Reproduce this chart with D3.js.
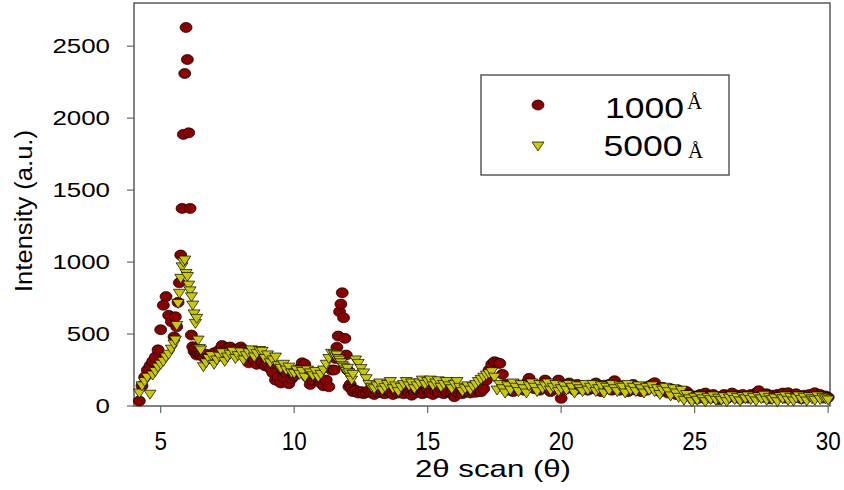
<!DOCTYPE html>
<html><head><meta charset="utf-8">
<script src="https://cdn.jsdelivr.net/npm/d3@7"></script>
<style>body{margin:0;background:#fff;} svg{display:block;}</style>
</head><body>
<svg id="chart" width="844" height="490"></svg>
<script>
// ---------- data ----------
const seriesNames = ["1000", "5000"];
const seriesUnit = "Å";
const xTicks = [5, 10, 15, 20, 25, 30];
const yTicks = [0, 500, 1000, 1500, 2000, 2500];

// 2θ positions (denser sampling around the two reflections)
function steps(start, n, step) { return d3.range(n).map(i => +(start + i * step).toFixed(2)); }
const twoTheta = [].concat(
  steps(4.2, 13, 0.1), steps(5.5, 21, 0.05), steps(6.6, 49, 0.1),
  steps(11.5, 15, 0.05), steps(12.3, 178, 0.1));

const intensity1000 = [
  35,140,200,250,280,310,340,390,530,700,760,630,585,
  480,620,550,720,856,1049,1373,1887,2310,2630,2407,1898,1373,493,412,380,400,354,370,390,360,
  340,360,330,350,370,340,390,420,380,400,
  410,380,395,370,410,390,360,300,340,320,
  290,330,300,280,300,260,230,180,200,160,
  200,230,155,190,210,240,260,300,290,200,
  150,180,210,190,160,140,180,134,250,
  250,330,408,486,655,708,787,613,470,354,250,134,150,120,100,
  110,90,100,85,95,110,90,
  80,100,120,90,85,110,95,80,105,90,
  100,85,110,95,75,90,115,100,85,95,
  110,90,80,105,95,120,85,100,110,90,
  65,95,110,85,100,120,90,105,95,110,
  99,120,180,250,290,308,300,296,220,150,
  110,130,100,150,120,140,110,160,192,130,
  120,140,110,150,180,130,100,150,120,180,
  53,140,120,160,130,110,150,120,140,130,
  110,140,120,160,130,100,145,120,150,110,
  176,130,110,140,120,100,130,150,110,120,
  100,130,110,140,150,162,120,100,130,110,
  90,120,100,80,110,90,70,100,80,60,
  70,50,80,60,90,70,55,80,60,45,
  60,80,50,70,90,60,75,50,80,65,
  55,80,65,90,106,70,60,85,50,75,
  60,80,70,90,55,92,70,60,85,65,
  50,75,60,80,70,92,65,80,55,70,
  60
];

const intensity5000 = [
  90,140,170,200,82,215,240,270,290,310,340,360,395,
  430,458,560,713,783,887,967,1000,1014,921,900,840,800,759,701,640,574,609,458,400,389,
  273,300,330,350,290,320,345,370,310,340,
  360,380,330,350,375,320,350,370,390,340,
  365,385,380,330,355,300,320,340,280,262,
  290,250,270,230,227,250,220,240,200,250,
  230,210,240,200,220,250,290,330,366,
  360,340,354,330,319,300,280,270,250,240,262,230,200,180,220,
  320,296,260,230,190,150,130,
  120,140,160,110,130,150,170,120,140,100,
  130,150,170,140,160,120,140,160,180,150,
  170,180,140,160,175,130,150,170,140,120,
  150,170,130,100,120,140,110,134,150,170,
  185,200,215,225,238,200,111,150,120,90,
  140,110,160,130,100,150,120,90,140,160,
  130,100,150,120,140,160,110,130,150,100,
  120,140,110,150,130,90,140,120,100,150,
  110,130,150,100,120,140,90,130,110,150,
  120,100,140,130,90,150,110,130,100,140,
  120,90,130,110,140,100,120,80,110,130,
  100,70,120,90,60,110,40,80,50,30,
  60,40,70,50,30,60,45,70,40,55,
  40,65,30,55,70,45,60,35,65,50,
  70,45,60,35,65,50,75,40,60,45,
  55,30,65,50,70,40,60,35,55,70,
  45,60,35,65,50,40,70,45,60,50,
  42
];

// ---------- chart ----------
const svg = d3.select("#chart");
const plot = {left: 134, right: 830, top: 3, bottom: 406};
const x = d3.scaleLinear().domain([4, 30.07]).range([plot.left, plot.right]);
const y = d3.scaleLinear().domain([0, 2800]).range([plot.bottom, plot.top]);

const circleFill = "#8a0000", triFill = "#c9c900", axisCol = "#404040";
const triPath = "M-6,-4L6,-4L0,5Z";

// frame
svg.append("rect").attr("x", plot.left).attr("y", plot.top)
  .attr("width", plot.right - plot.left).attr("height", plot.bottom - plot.top)
  .attr("fill", "none").attr("stroke", axisCol).attr("stroke-width", 1.3);

// y ticks
const yAx = svg.append("g");
yTicks.forEach(v => {
  yAx.append("line").attr("x1", plot.left - 7).attr("x2", plot.left)
    .attr("y1", y(v)).attr("y2", y(v)).attr("stroke", "#666").attr("stroke-width", 1.2);
  const s = String(v), len = s.length * 14.4;
  yAx.append("text").attr("x", 110 - len).attr("y", y(v) + 7)
    .attr("font-family", "Liberation Sans, Arial, sans-serif").attr("font-size", 20)
    .attr("textLength", len).attr("lengthAdjust", "spacingAndGlyphs").attr("fill", "#000").text(s);
});
// x ticks
const xAx = svg.append("g");
xTicks.forEach(v => {
  xAx.append("line").attr("x1", x(v)).attr("x2", x(v))
    .attr("y1", plot.bottom).attr("y2", plot.bottom + 7).attr("stroke", "#666").attr("stroke-width", 1.2);
  const s = String(v), len = s.length * 12.5;
  xAx.append("text").attr("x", x(v) - len / 2).attr("y", 450)
    .attr("font-family", "Liberation Sans, Arial, sans-serif").attr("font-size", 26)
    .attr("textLength", len).attr("lengthAdjust", "spacingAndGlyphs").attr("fill", "#000").text(s);
});

// axis titles
svg.append("text").attr("x", 415).attr("y", 477)
  .attr("font-family", "Liberation Sans, Arial, sans-serif").attr("font-size", 24)
  .attr("textLength", 156).attr("lengthAdjust", "spacingAndGlyphs").text("2θ scan (θ)");
svg.append("text").attr("transform", "translate(32,292) rotate(-90)")
  .attr("font-family", "Liberation Sans, Arial, sans-serif").attr("font-size", 23)
  .attr("textLength", 162).attr("lengthAdjust", "spacingAndGlyphs").text("Intensity (a.u.)");

// data marks
const d1000 = twoTheta.map((t, i) => ({t, v: intensity1000[i]}));
const d5000 = twoTheta.map((t, i) => ({t, v: intensity5000[i]}));

svg.append("g").selectAll("ellipse").data(d1000).join("ellipse")
  .attr("cx", d => x(d.t)).attr("cy", d => y(d.v)).attr("rx", 6).attr("ry", 5)
  .attr("fill", circleFill).attr("stroke", "#000").attr("stroke-width", 0.7);

svg.append("g").selectAll("path").data(d5000).join("path")
  .attr("transform", d => `translate(${x(d.t)},${y(d.v)})`).attr("d", triPath)
  .attr("fill", triFill).attr("stroke", "#000").attr("stroke-width", 0.7);

// legend
const lg = svg.append("g");
lg.append("rect").attr("x", 481).attr("y", 75).attr("width", 248).attr("height", 100)
  .attr("fill", "#fff").attr("stroke", axisCol).attr("stroke-width", 1.3);
lg.append("ellipse").attr("cx", 538).attr("cy", 105).attr("rx", 6).attr("ry", 5)
  .attr("fill", circleFill).attr("stroke", "#000").attr("stroke-width", 0.7);
lg.append("path").attr("transform", "translate(538,146)").attr("d", triPath)
  .attr("fill", triFill).attr("stroke", "#000").attr("stroke-width", 0.7);
const legendRows = [
  {name: seriesNames[0], x: 605, base: 118, ux: 687, ubase: 109},
  {name: seriesNames[1], x: 603.5, base: 156, ux: 688, ubase: 158}
];
legendRows.forEach(r => {
  lg.append("text").attr("x", r.x).attr("y", r.base)
    .attr("font-family", "Liberation Sans, Arial, sans-serif").attr("font-size", 30)
    .attr("textLength", 79).attr("lengthAdjust", "spacingAndGlyphs").text(r.name);
  lg.append("text").attr("x", r.ux).attr("y", r.ubase)
    .attr("font-family", "Liberation Serif, Times New Roman, serif").attr("font-size", 21)
    .text(seriesUnit);
});
</script>
</body></html>
